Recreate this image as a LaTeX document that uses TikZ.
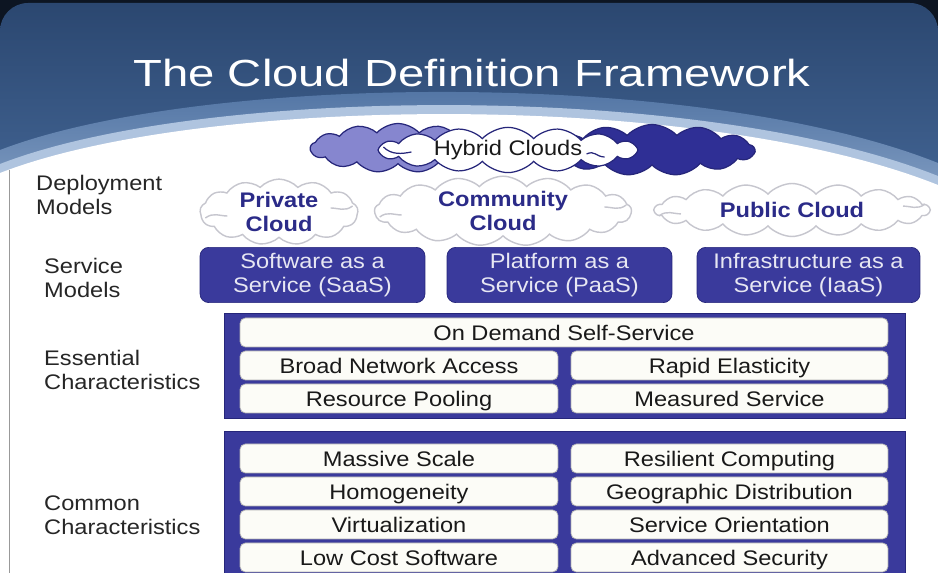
\documentclass[tikz,border=0pt]{standalone}
\usepackage{fontspec}
\setmainfont{Liberation Sans}[FakeStretch=1.12]
\newfontfamily\titlefont{Liberation Sans}[FakeStretch=1.25]
\usetikzlibrary{shapes.symbols}

\definecolor{slidetop}{HTML}{2B4770}
\definecolor{slidemid}{HTML}{4A6E9F}
\definecolor{halo}{HTML}{AFC4DF}
\definecolor{indigo}{HTML}{3A3A9C}
\definecolor{indigoedge}{HTML}{26267A}
\definecolor{lilac}{HTML}{8686CF}
\definecolor{navycloud}{HTML}{2F2F95}
\definecolor{cloudtext}{HTML}{2B2B88}
\definecolor{cloudedge}{HTML}{C6C6CE}
\definecolor{rowfill}{HTML}{FCFCF7}

\def\bodyfont{\fontsize{12}{13.6}\selectfont}

\tikzset{
	sidetext/.style={anchor=west, align=left, font=\bodyfont, text=black!85},
	rowbox/.style={draw=black!30, fill=rowfill, rounded corners=3pt, minimum height=0.58cm, inner sep=0pt, text height=9.4pt, text depth=0.8pt, font=\bodyfont, text=black!90},
	framebox/.style={fill=indigo, draw=indigoedge, inner sep=0pt, minimum width=13.62cm},
	svcbox/.style={fill=indigo, draw=indigoedge, rounded corners=5pt, minimum width=4.5cm, minimum height=1cm, align=center, font=\bodyfont, text=white!88!indigo},
	puff/.style={cloud, cloud puffs=15, cloud puff arc=95, cloud ignores aspect, inner sep=0pt},
	depcloud/.style={puff, draw=cloudedge, fill=white, line width=0.8pt, align=center, font=\bodyfont\bfseries, text=cloudtext},
	cloudmark/.style={draw=cloudedge, line width=0.8pt}
}

\begin{document}
\begin{tikzpicture}[x=0.02cm, y=-0.02cm]
	\useasboundingbox (0,0) rectangle (938,573);
	\fill[white] (0,0) rectangle (938,573);
	\fill[black!70!slidetop] (0,0) rectangle (938,60);
	\shade[top color=slidetop, bottom color=slidemid, rounded corners=16pt] (0,3) rectangle (938,260);
	\shade[top color=slidemid, bottom color=halo!80!slidemid] (0,150) .. controls (200,73) and (700,68) .. (938,163) -- (938,260) -- (0,260) -- cycle;
	\fill[halo] (0,164) .. controls (200,86) and (700,81) .. (938,176) -- (938,260) -- (0,260) -- cycle;
	\fill[white] (0,173) .. controls (200,95) and (700,90) .. (938,185) -- (938,573) -- (0,573) -- cycle;
	\draw[black!40] (9,170) -- (9,573);
	
	\node[anchor=base, text=white, font=\titlefont\fontsize{21.5}{24}\selectfont] (title) at (472,87) {The Cloud Definition Framework};
	
	\node[puff, cloud puffs=13, minimum width=3.5cm, minimum height=0.98cm, fill=lilac, draw=indigoedge, line width=0.7pt] (hyleft) at (398,148) {};
	\node[puff, cloud puffs=13, minimum width=4.1cm, minimum height=1.02cm, fill=navycloud, draw=indigoedge, line width=0.7pt] (hyright) at (652,150) {};
	\node[puff, cloud puffs=16, minimum width=5.2cm, minimum height=0.9cm, fill=white, draw=indigoedge, line width=0.7pt, font=\bodyfont, text=black!90] (hybrid) at (508,150) {Hybrid Clouds};
	\draw[indigoedge, line width=0.7pt] ([shift={(6,-3)}]hybrid.west) .. controls +(8,8) and +(-10,2) .. ++(28,5);
	\draw[indigoedge, line width=0.7pt] ([shift={(-52,4)}]hybrid.east) .. controls +(8,-4) and +(-8,0) .. ++(18,3);
	
	\node[sidetext] (deplabel) at (30,195) {Deployment\\Models};
	\node[depcloud, cloud puffs=13, minimum width=3.16cm, minimum height=1.14cm] (private) at (279,212) {Private\\Cloud};
	\node[depcloud, cloud puffs=17, minimum width=5.14cm, minimum height=1.18cm] (community) at (503,211) {Community\\Cloud};
	\node[depcloud, cloud puffs=18, minimum width=5.5cm, minimum height=1.06cm] (public) at (792,210) {Public Cloud};
	\foreach \c in {private,community,public}{
		\draw[cloudmark] ([shift={(6,6)}]\c.west) .. controls +(8,-6) and +(-8,0) .. ++(22,-2);
		\draw[cloudmark] ([shift={(-6,-6)}]\c.east) .. controls +(-8,6) and +(8,0) .. ++(-22,2);
	}
	
	\node[sidetext] (svclabel) at (38,278) {Service\\Models};
	\node[svcbox] (saas) at (312.5,275) {Software as a\\Service (SaaS)};
	\node[svcbox] (paas) at (559.5,275) {Platform as a\\Service (PaaS)};
	\node[svcbox, minimum width=4.46cm] (iaas) at (808.5,275) {Infrastructure as a\\Service (IaaS)};
	
	\node[sidetext] (esslabel) at (38,370) {Essential\\Characteristics};
	\node[framebox, minimum height=2.1cm] (essframe) at (564.5,365.5) {};
	\node[rowbox, minimum width=12.96cm] (ondemand) at (564,332.5) {On Demand Self-Service};
	\node[rowbox, minimum width=6.36cm] (broad) at (399,365.5) {Broad Network Access};
	\node[rowbox, minimum width=6.34cm] (rapid) at (729.5,365.5) {Rapid Elasticity};
	\node[rowbox, minimum width=6.36cm] (pooling) at (399,398.5) {Resource Pooling};
	\node[rowbox, minimum width=6.34cm] (measured) at (729.5,398.5) {Measured Service};
	
	\node[sidetext] (comlabel) at (38,515) {Common\\Characteristics};
	\node[framebox, minimum height=3.2cm] (comframe) at (564.5,511) {};
	\node[rowbox, minimum width=6.36cm] (massive) at (399,458.5) {Massive Scale};
	\node[rowbox, minimum width=6.34cm] (resilient) at (729.5,458.5) {Resilient Computing};
	\node[rowbox, minimum width=6.36cm] (homog) at (399,491.5) {Homogeneity};
	\node[rowbox, minimum width=6.34cm] (geo) at (729.5,491.5) {Geographic Distribution};
	\node[rowbox, minimum width=6.36cm] (virt) at (399,524.5) {Virtualization};
	\node[rowbox, minimum width=6.34cm] (orient) at (729.5,524.5) {Service Orientation};
	\node[rowbox, minimum width=6.36cm] (lowcost) at (399,557.5) {Low Cost Software};
	\node[rowbox, minimum width=6.34cm] (security) at (729.5,557.5) {Advanced Security};
\end{tikzpicture}
\end{document}
